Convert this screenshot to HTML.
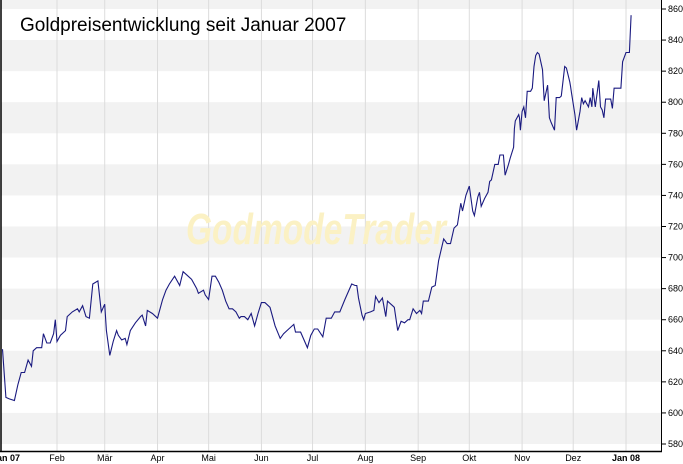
<!DOCTYPE html>
<html><head><meta charset="utf-8"><style>
body{margin:0;background:#fff;}
svg{display:block;font-family:"Liberation Sans",Arial,sans-serif;}
</style></head><body>
<svg id="chart" width="683" height="464">
<g id="bands"></g>
<g id="vgrid"></g>
<text x="186" y="244" font-size="44" font-style="italic" font-weight="bold" fill="#fbf1c4" textLength="260" lengthAdjust="spacingAndGlyphs">GodmodeTrader</text>
<text x="20" y="31" font-size="19" fill="#000">Goldpreisentwicklung seit Januar 2007</text>
<g id="series"></g>
<line x1="1" y1="0" x2="1" y2="451" stroke="#000" stroke-width="1.5"/>
<line x1="0" y1="451.5" x2="662" y2="451.5" stroke="#000" stroke-width="1.5"/>
<line x1="661.5" y1="0" x2="661.5" y2="452" stroke="#000" stroke-width="1"/>
<g id="yaxis"></g>
<g id="xaxis"></g>
</svg>
<script>
const yTicks=[580,600,620,640,660,680,700,720,740,760,780,800,820,840,860];
const monthLabels=["Feb","Mär","Apr","Mai","Jun","Jul","Aug","Sep","Okt","Nov","Dez","Jan 08"];
const monthDays=[31,59,90,120,151,181,212,243,273,304,334,365];
const days=[-1,1,3,6,8,10,12,14,16,17,19,22,23,25,27,29,30,31,33,36,37,40,43,44,46,48,50,52,55,57,59,60,62,64,66,67,69,71,72,74,77,80,81,83,84,87,90,93,95,97,100,103,105,107,110,113,114,117,118,120,122,124,126,128,130,132,134,136,138,139,141,143,145,147,149,151,153,156,159,162,164,167,170,171,174,176,178,180,182,184,187,189,192,194,195,197,200,204,206,207,208,210,211,212,215,217,218,220,222,224,225,228,229,231,233,235,237,238,240,242,244,245,246,249,251,253,255,258,260,262,264,266,268,269,271,273,275,276,278,279,280,282,284,285,286,288,290,291,293,294,296,297,299,299.5,300,302,302.5,303,304,305,306,307,309,310,311,312,313,314,316,317,319,320,321,323,324,326,327,329,330,332,332.5,333,335,336,338,339,340,341,343,344,345,345.5,347,349,350,351,352,353,356,357,358,362,363,365,367,368];
const prices=[641,610,609,608,618,626,626,634,630,640,642,642,651,645,645,651,660,646,650,653,662,665,667,665,669,662,661,683,685,665,670,653,637,646,653,650,647,648,644,653,658,662,663,656,666,664,661,673,679,683,688,682,691,689,686,680,677,679,676,673,688,688,684,679,672,667,667,665,661,662,662,660,664,656,664,671,671,668,656,648,651,654,657,652,652,647,642,650,654,654,649,661,661,665,665,665,673,683,682,682,674,663,660,664,665,666,675,671,674,662,672,669,668,653,659,658,660,660,667,664,666,664,672,672,681,682,698,712,709,709,719,721,735,730,740,746,730,727,739,742,733,738,742,749,750,760,760,766,766,753,760,764,771,783,788,792,790,782,794,797,790,807,807,809,823,830,832,831,821,801,811,790,787,782,803,803,804,823,822,813,810,806,792,782,794,803,799,801,797,803,797,809,797,814,797,795,790,802,802,796,809,809,826,832,832,856];
const NS="http://www.w3.org/2000/svg";
const yS=v=>444-(v-580)*(435/280);
const xS=d=>4.2+d*1.7036;
const bands=document.getElementById('bands');
for(let v=580;v<=860;v+=40){
  const r=document.createElementNS(NS,'rect');
  
  
  const top=Math.max(0,yS(v+20));
  r.setAttribute('x',1);r.setAttribute('y',top);r.setAttribute('width',660);r.setAttribute('height',yS(v)-top);
  r.setAttribute('fill','#f2f2f2');bands.appendChild(r);
}
const vg=document.getElementById('vgrid'),xa=document.getElementById('xaxis'),ya=document.getElementById('yaxis');
monthDays.forEach((d,i)=>{
  const x=xS(d);
  const l=document.createElementNS(NS,'line');
  
  
  l.setAttribute('x1',x);l.setAttribute('x2',x);l.setAttribute('y1',0);l.setAttribute('y2',451);
  l.setAttribute('stroke','#dcdcdc');vg.appendChild(l);
  const t=document.createElementNS(NS,'text');
  
  
  t.setAttribute('x',x);t.setAttribute('y',461);t.setAttribute('font-size','9');t.setAttribute('text-anchor','middle');
  if(i===monthLabels.length-1)t.setAttribute('font-weight','bold');
  t.textContent=monthLabels[i];xa.appendChild(t);
});
const t0=document.createElementNS(NS,'text');


t0.setAttribute('x',-8);t0.setAttribute('y',461);t0.setAttribute('font-size','9');t0.setAttribute('font-weight','bold');
t0.textContent='Jan 07';xa.appendChild(t0);
yTicks.forEach(v=>{
  const y=yS(v);
  const l=document.createElementNS(NS,'line');
  
  
  l.setAttribute('x1',661);l.setAttribute('x2',666);l.setAttribute('y1',y);l.setAttribute('y2',y);l.setAttribute('stroke','#000');ya.appendChild(l);
  const t=document.createElementNS(NS,'text');
  
  
  t.setAttribute('x',668);t.setAttribute('y',y+3);t.setAttribute('font-size','9');
  t.textContent=v;ya.appendChild(t);
});
const p=document.createElementNS(NS,'polyline');


p.setAttribute('points',prices.map((v,i)=>xS(days[i]).toFixed(1)+','+yS(v).toFixed(1)).join(' '));
p.setAttribute('fill','none');p.setAttribute('stroke','#1a1a80');p.setAttribute('stroke-width','1.1');
document.getElementById('series').appendChild(p);
</script>
</body></html>
